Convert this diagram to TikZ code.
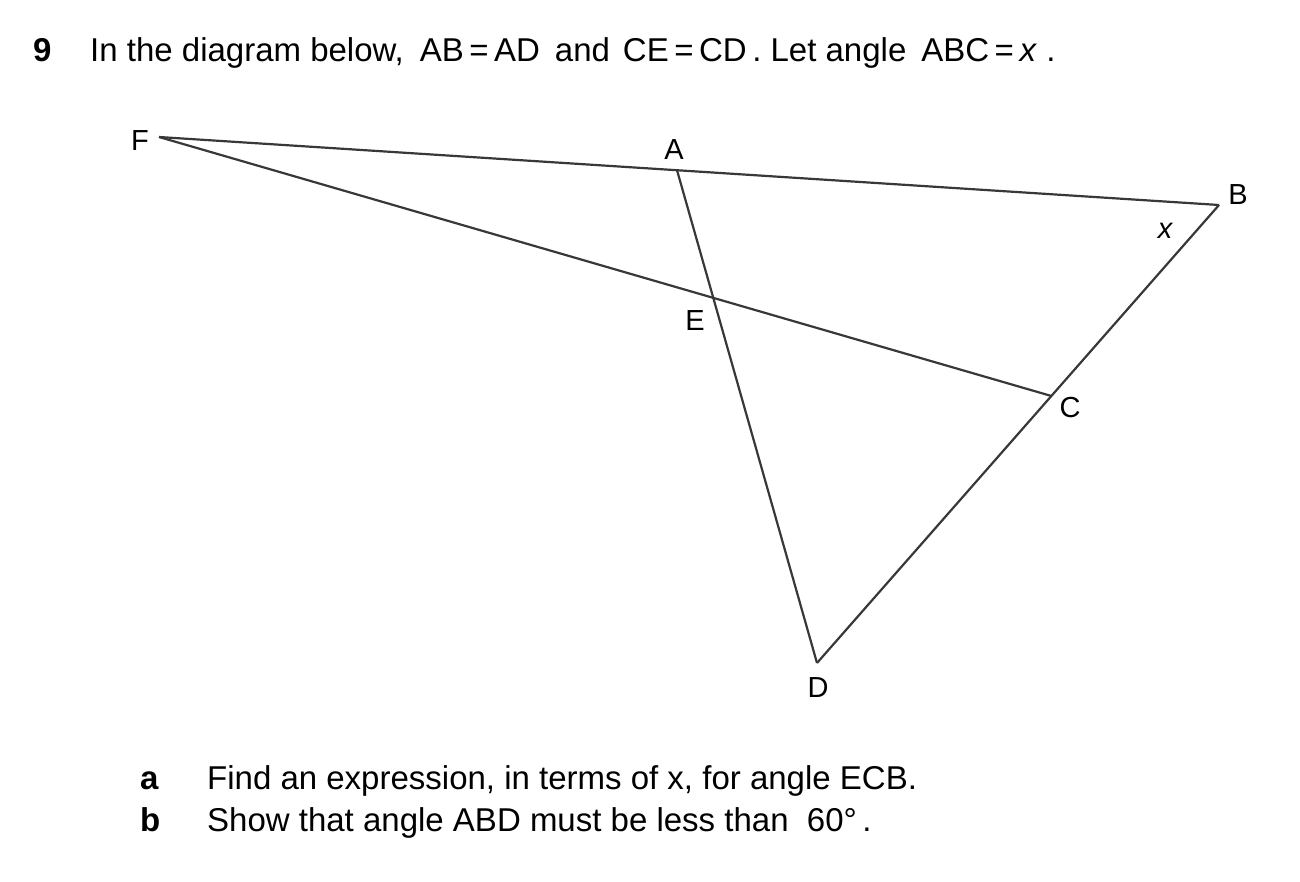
\documentclass[tikz,border=0pt]{standalone}
\usepackage{fontspec}
\setmainfont{Liberation Sans}
\usetikzlibrary{calc}

\begin{document}
\begin{tikzpicture}[x=1pt, y=-1pt,
  side/.style={draw=black!78, line width=2.2pt},
  pt label/.style={font=\fontsize{29}{32}\selectfont, inner sep=0pt},
  body/.style={font=\fontsize{33}{38}\selectfont, anchor=base west, inner sep=0pt}]
\useasboundingbox (0,0) rectangle (1300,882);
% vertices
\coordinate (F) at (159,137);
\coordinate (B) at (1219,205);
\coordinate (D) at (817,663);
\coordinate (A) at ($(F)!0.4887!(B)$);
\coordinate (C) at ($(B)!0.417!(D)$);
\coordinate (E) at (intersection of F--C and A--D);
% sides
\path[side]
(F) edge (B)
    edge (C)
(A) edge (D)
(B) edge (D);
% point labels
\node[pt label] (lf) at (140,141) {F};
\node[pt label] (la) at (674,150) {A};
\node[pt label] (lb) at (1238,195) {B};
\node[pt label] (lx) at (1165,231) {\itshape x};
\node[pt label] (le) at (695,321) {E};
\node[pt label] (lc) at (1070,408) {C};
\node[pt label] (ld) at (818,688) {D};
% question text
\node[body, font=\fontsize{33}{38}\selectfont\bfseries] (qnum) at (33,62) {9};
\node[body] (qtext) at (90,62) {In the diagram below,\hspace{16pt}AB\,=\,AD\hspace{15pt}and\hspace{13pt}CE\,=\,CD\,.\ Let angle\hspace{15pt}ABC\,=\,\textit{x}\ .};
\node[body, font=\fontsize{33}{38}\selectfont\bfseries] (pa) at (140,789) {a};
\node[body] (ta) at (207,789) {Find an expression, in terms of x, for angle ECB.};
\node[body, font=\fontsize{33}{38}\selectfont\bfseries] (pb) at (140,831) {b};
\node[body] (tb) at (207,831) {Show that angle ABD must be less than\ \ 60°\,.};
\end{tikzpicture}
\end{document}
